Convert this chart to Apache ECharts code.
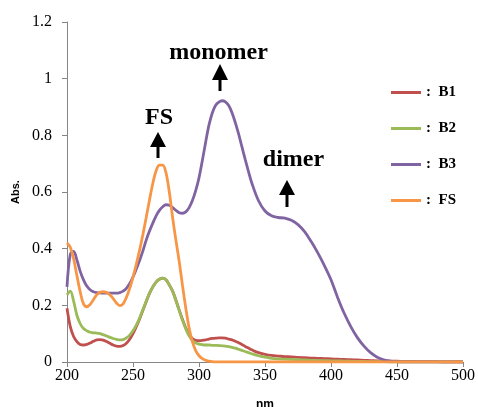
<!DOCTYPE html>
<html>
<head>
<meta charset="utf-8">
<script src="https://cdn.jsdelivr.net/npm/echarts@6/dist/echarts.min.js"></script>
<style>html,body{margin:0;padding:0;background:#fff}#c{width:478px;height:407px}</style>
</head>
<body>
<div id="c"></div>
<script>
const wavelengths = [200,202.5,205,207.5,210,212.5,215,217.5,220,222.5,225,227.5,230,232.5,235,237.5,240,242.5,245,247.5,250,252.5,255,257.5,260,262.5,265,267.5,270,272.5,275,277.5,280,282.5,285,287.5,290,292.5,295,297.5,300,302.5,305,307.5,310,312.5,315,317.5,320,322.5,325,327.5,330,332.5,335,337.5,340,345,350,355,360,365,370,375,380,385,390,395,400,405,410,415,420,425,430,435,440,445,450,455,460,465,470,475,480,485,490,495,500];
const seriesNames = ['B1','B2','B3','FS'];
const b1 = [0.19,0.125,0.09,0.072,0.062,0.06,0.062,0.067,0.073,0.078,
  0.079,0.077,0.072,0.066,0.06,0.056,0.055,0.058,0.066,0.08,
  0.1,0.125,0.152,0.183,0.213,0.242,0.265,0.282,0.292,0.296,
  0.29,0.272,0.25,0.218,0.183,0.15,0.12,0.097,0.083,0.076,
  0.075,0.076,0.078,0.081,0.083,0.084,0.085,0.085,0.084,0.081,
  0.078,0.073,0.068,0.062,0.055,0.049,0.043,
  0.033,0.027,0.023,0.021,0.019,0.018,0.016,0.015,0.014,0.013,
  0.012,0.011,0.01,0.009,0.008,0.007,0.006,0.005,0.004,0.004,
  0.003,0.003,0.002,0.002,0.002,0.001,0.001,0.001,0,0,0,0];
const b2 = [0.237,0.25,0.215,0.165,0.135,0.118,0.11,0.105,0.103,0.102,
  0.1,0.096,0.092,0.087,0.083,0.08,0.078,0.079,0.085,0.095,
  0.11,0.13,0.155,0.185,0.215,0.243,0.265,0.282,0.292,0.296,
  0.29,0.272,0.25,0.218,0.182,0.147,0.117,0.092,0.076,0.067,
  0.063,0.061,0.06,0.06,0.059,0.059,0.058,0.057,0.056,0.054,
  0.052,0.049,0.045,0.041,0.037,0.033,0.029,
  0.022,0.017,0.013,0.011,0.01,0.009,0.008,0.007,0.006,0.005,
  0.005,0.004,0.004,0.003,0.003,0.002,0.002,0.001,0.001,0.001,
  0,0,0,0,0,0,0,0,0,0,0,0];
const b3 = [0.265,0.38,0.39,0.36,0.32,0.29,0.268,0.255,0.248,0.245,
  0.244,0.243,0.243,0.243,0.243,0.243,0.245,0.25,0.26,0.277,
  0.30,0.328,0.358,0.392,0.43,0.462,0.49,0.516,0.535,0.548,
  0.555,0.553,0.545,0.535,0.527,0.525,0.53,0.545,0.57,0.605,
  0.65,0.71,0.775,0.835,0.878,0.905,0.917,0.922,0.918,0.905,
  0.88,0.845,0.805,0.76,0.715,0.672,0.632,
  0.57,0.533,0.516,0.51,0.508,0.5,0.485,0.46,0.425,0.385,
  0.34,0.29,0.228,0.172,0.125,0.086,0.056,0.033,0.017,0.008,
  0.003,0.001,0,0,0,0,0,0,0,0,0,0];
const fs = [0.42,0.405,0.365,0.305,0.248,0.205,0.195,0.203,0.22,0.237,
  0.246,0.248,0.245,0.237,0.224,0.208,0.199,0.205,0.228,0.26,
  0.30,0.345,0.395,0.45,0.51,0.572,0.63,0.675,0.695,0.695,
  0.668,0.6,0.51,0.43,0.355,0.27,0.19,0.12,0.072,0.04,
  0.022,0.012,0.006,0.003,0.001,0,0,0,0,0,
  0,0,0,0,0,0,0,
  0,0,0,0,0,0,0,0,0,0,
  0,0,0,0,0,0,0,0,0,0,
  0,0,0,0,0,0,0,0,0,0,0,0];
const xTicks = {min:200, max:500, interval:50};
const yTicks = {min:0, max:1.2, interval:0.2};
const colors = ['#C0504D','#9BBB59','#8064A2','#F79646'];
const values = [b1,b2,b3,fs];

const serif = 'Liberation Serif, Times New Roman, serif';
const chart = echarts.init(document.getElementById('c'), null, {renderer:'canvas'});

function arrow(x, tip, base, bottom) {
  return [
    {type:'polygon', shape:{points:[[x, tip],[x-8, base],[x+8, base]]}, style:{fill:'#000'}},
    {type:'rect', shape:{x:x-1.5, y:base-1, width:3, height:bottom-base+1}, style:{fill:'#000'}}
  ];
}

const option = {
  animation:false,
  color: colors,
  grid:{left:67, right:15, top:22, bottom:45, outerBoundsMode:'none', containLabel:false},
  xAxis:{
    type:'value', min:xTicks.min, max:xTicks.max, interval:xTicks.interval,
    name:'nm', nameLocation:'middle', nameGap:37,
    nameTextStyle:{fontFamily:'Liberation Sans, Arial', fontWeight:'bold', fontSize:12, color:'#000'},
    axisLine:{show:true, lineStyle:{color:'#868686', width:1}},
    axisTick:{show:true, length:5, lineStyle:{color:'#868686'}},
    axisLabel:{fontFamily:serif, fontSize:16, color:'#000', margin:6},
    splitLine:{show:false}
  },
  yAxis:{
    type:'value', min:yTicks.min, max:yTicks.max, interval:yTicks.interval,
    name:'Abs.', nameLocation:'middle', nameGap:45,
    nameTextStyle:{fontFamily:'Liberation Sans, Arial', fontWeight:'bold', fontSize:11, color:'#000'},
    axisLine:{show:true, lineStyle:{color:'#868686', width:1}},
    axisTick:{show:true, length:5, lineStyle:{color:'#868686'}},
    axisLabel:{fontFamily:serif, fontSize:16, color:'#000', margin:15},
    splitLine:{show:false}
  },
  legend:{
    orient:'vertical', left:386, top:80, itemGap:21,
    icon:'rect', itemWidth:30, itemHeight:3,
    data: seriesNames,
    formatter: function(n){ return ':  ' + n; },
    textStyle:{fontFamily:serif, fontWeight:'bold', fontSize:15, color:'#000'}
  },
  series: seriesNames.map(function(n, i){
    return {
      name:n, type:'line', smooth:0.35, showSymbol:false, symbol:'none',
      data: wavelengths.map(function(w, j){ return [w, values[i][j]]; }),
      lineStyle:{width:2.8, color:colors[i]},
      itemStyle:{color:colors[i]},
      z: 2 + i
    };
  }),
  graphic: [
    {type:'text', style:{text:'monomer', x:218.5, y:53, textAlign:'center', textVerticalAlign:'middle', font:'bold 24px ' + serif, fill:'#000'}},
    {type:'text', style:{text:'FS', x:159, y:118, textAlign:'center', textVerticalAlign:'middle', font:'bold 24px ' + serif, fill:'#000'}},
    {type:'text', style:{text:'dimer', x:293.5, y:159.5, textAlign:'center', textVerticalAlign:'middle', font:'bold 24px ' + serif, fill:'#000'}}
  ].concat(arrow(220, 64, 80, 91), arrow(158, 132, 147, 158), arrow(287, 180, 195, 207))
};
chart.setOption(option);
</script>
</body>
</html>
